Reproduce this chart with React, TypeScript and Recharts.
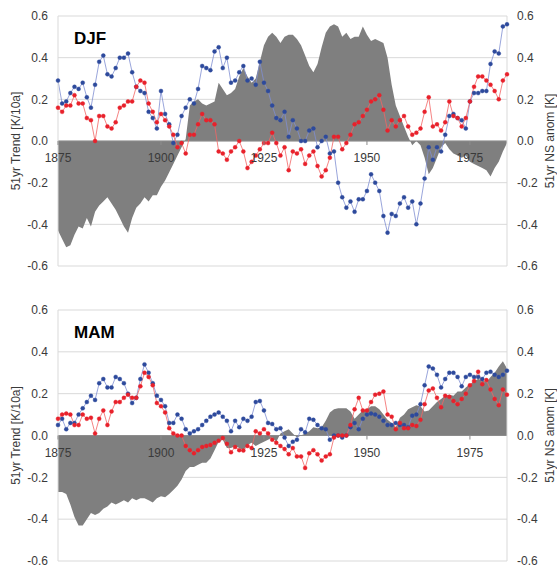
import React from "react";
import { ComposedChart, Area, Line, XAxis, YAxis, CartesianGrid, ReferenceLine } from "recharts";

// 51-year windows, centre years 1875..1984
const FIRST_YEAR = 1875;
const years = Array.from({ length: 110 }, (_, i) => FIRST_YEAR + i);
const yearTicks = [1875, 1900, 1925, 1950, 1975];
const valueTicks = [-0.6, -0.4, -0.2, 0, 0.2, 0.4, 0.6];

// DJF
const djfTrend = [
  -0.43, -0.47, -0.51, -0.5, -0.45, -0.41, -0.42, -0.37, -0.41, -0.34,
  -0.31, -0.29, -0.27, -0.3, -0.33, -0.37, -0.41, -0.44, -0.37, -0.32,
  -0.3, -0.27, -0.29, -0.26, -0.26, -0.22, -0.19, -0.15, -0.11, -0.07,
  -0.03, 0.01, 0.17, 0.19, 0.2, 0.18, 0.17, 0.18, 0.19, 0.28,
  0.25, 0.22, 0.23, 0.25, 0.31, 0.35, 0.31, 0.28, 0.3, 0.38,
  0.46, 0.5, 0.52, 0.5, 0.47, 0.5, 0.51, 0.51, 0.49, 0.46,
  0.41, 0.36, 0.33, 0.37, 0.45, 0.52, 0.55, 0.56, 0.55, 0.5,
  0.52, 0.49, 0.5, 0.5, 0.55, 0.51, 0.48, 0.49, 0.48, 0.47,
  0.4, 0.27, 0.17, 0.12, 0.07, 0.02, -0.02, 0.0, -0.02, -0.08,
  -0.16, -0.13, -0.08, -0.03, -0.01, -0.04, -0.06, -0.07, -0.08, -0.07,
  -0.1, -0.11, -0.12, -0.13, -0.14, -0.17, -0.13, -0.1, -0.05, -0.01,
];
const djfBlue = [
  0.29, 0.18, 0.19, 0.23, 0.26, 0.25, 0.28, 0.21, 0.16, 0.27,
  0.38, 0.41, 0.32, 0.31, 0.35, 0.4, 0.4, 0.42, 0.33, 0.26,
  0.24, 0.23, 0.14, 0.11, 0.06, 0.24, 0.13, 0.08, -0.01, 0.03,
  0.12, 0.16, 0.2, 0.18, 0.25, 0.36, 0.35, 0.34, 0.43, 0.45,
  0.35, 0.4, 0.28, 0.29, 0.33, 0.36, 0.29, 0.3, 0.27, 0.38,
  0.28, 0.24, 0.17, 0.11, 0.1, 0.14, 0.02, 0.1, 0.06, 0.0,
  0.0, 0.05, 0.06, -0.03, 0.0, 0.02, -0.06, -0.05, -0.2, -0.27,
  -0.32, -0.29, -0.34, -0.28, -0.28, -0.24, -0.16, -0.2, -0.24, -0.36,
  -0.44, -0.35, -0.36, -0.3, -0.27, -0.32, -0.29, -0.4, -0.3, -0.18,
  -0.03, -0.09, -0.03, -0.05, 0.03, 0.12, 0.13, 0.11, 0.1, 0.06,
  0.19, 0.23, 0.23, 0.24, 0.24, 0.37, 0.43, 0.42, 0.55, 0.56,
];
const djfRed = [
  0.16, 0.14, 0.17, 0.17, 0.22, 0.18, 0.18, 0.11, 0.1, 0.0,
  0.12, 0.12, 0.07, 0.06, 0.09, 0.16, 0.17, 0.19, 0.19, 0.26,
  0.29, 0.28, 0.18, 0.14, 0.09, 0.13, 0.1, 0.07, 0.03, -0.03,
  -0.01, -0.06, 0.03, 0.03, 0.08, 0.13, 0.1, 0.1, 0.08, -0.05,
  -0.06, -0.09, -0.05, -0.03, 0.0, -0.05, -0.13, -0.1, -0.07, -0.04,
  -0.01, -0.01, 0.04, -0.01, -0.07, -0.03, -0.14, -0.05, -0.06, -0.04,
  -0.11, -0.07, -0.05, -0.12, -0.17, -0.14, -0.08, 0.02, 0.02, -0.04,
  -0.01, 0.03, 0.08, 0.09, 0.12, 0.15, 0.19, 0.2, 0.22, 0.15,
  0.05, 0.1, 0.07, 0.1, 0.12, 0.07, 0.03, 0.04, 0.06, 0.14,
  0.21, 0.07, 0.08, 0.05, 0.09, 0.19, 0.12, 0.11, 0.07, 0.11,
  0.19, 0.26, 0.31, 0.31, 0.29, 0.27, 0.24, 0.2, 0.29, 0.32,
];

// MAM
const mamTrend = [
  -0.27, -0.27, -0.28, -0.33, -0.39, -0.43, -0.43, -0.4, -0.37, -0.38,
  -0.37, -0.35, -0.34, -0.32, -0.33, -0.32, -0.31, -0.32, -0.3, -0.31,
  -0.3, -0.3, -0.31, -0.32, -0.3, -0.29, -0.295, -0.28, -0.26, -0.24,
  -0.21, -0.17, -0.15, -0.15, -0.14, -0.13, -0.13, -0.11, -0.07, -0.03,
  -0.02, -0.06, -0.06, -0.05, -0.06, -0.07, -0.045, -0.035, -0.05, -0.04,
  -0.03, -0.02, -0.01, -0.03, 0.01, 0.02, 0.03, 0.01, -0.01, 0.0,
  0.01, 0.02, 0.04, 0.035, 0.04, 0.07, 0.11, 0.125, 0.13, 0.13,
  0.13, 0.115, 0.08, 0.1, 0.12, 0.125, 0.14, 0.14, 0.125, 0.1,
  0.075, 0.06, 0.04, 0.085, 0.1, 0.125, 0.135, 0.145, 0.14, 0.115,
  0.12, 0.14, 0.16, 0.175, 0.19, 0.195, 0.19, 0.21, 0.21, 0.23,
  0.245, 0.26, 0.27, 0.265, 0.255, 0.28, 0.3, 0.33, 0.355, 0.32,
];
const mamBlue = [
  0.05, 0.08, 0.03, 0.06, 0.06, 0.1, 0.13, 0.16, 0.19, 0.17,
  0.25, 0.27, 0.23, 0.23, 0.28, 0.27, 0.25, 0.2, 0.155, 0.18,
  0.27, 0.34, 0.3, 0.25, 0.19, 0.17, 0.14, 0.06, 0.06, 0.1,
  0.08, 0.03, 0.01, 0.02, 0.03, 0.05, 0.07, 0.09, 0.1, 0.11,
  0.09, 0.07, 0.02, 0.07, 0.04, 0.08, 0.07, 0.09, 0.16, 0.165,
  0.12, 0.06, 0.055, 0.03, 0.035, -0.01, -0.05, -0.03, -0.02, 0.03,
  0.015, 0.08, 0.075, 0.05, 0.035, 0.03, -0.02, 0.0, 0.0, -0.01,
  0.0, 0.04, 0.06, 0.03, 0.08, 0.1, 0.105, 0.1, 0.09, 0.07,
  0.05, 0.05, 0.06, 0.05, 0.05, 0.04, 0.095, 0.1, 0.15, 0.24,
  0.33, 0.32, 0.29, 0.23, 0.27, 0.3, 0.3, 0.28, 0.235, 0.28,
  0.29, 0.28, 0.28, 0.27, 0.3, 0.305, 0.29, 0.28, 0.29, 0.31,
];
const mamRed = [
  0.08, 0.1, 0.105, 0.1, 0.05, 0.05, 0.1, 0.08, 0.085, 0.01,
  0.08, 0.12, 0.05, 0.115, 0.16, 0.16, 0.18, 0.195, 0.18, 0.18,
  0.235, 0.3, 0.28, 0.24, 0.155, 0.14, 0.11, 0.035, 0.01, 0.0,
  0.0, -0.05, -0.07, -0.085, -0.07, -0.055, -0.05, -0.045, -0.035, -0.025,
  -0.012, -0.04, -0.08, -0.055, -0.07, -0.072, -0.05, -0.06, 0.02, 0.01,
  0.03, 0.01, -0.02, -0.035, -0.05, -0.065, -0.09, -0.06, -0.1, -0.1,
  -0.155, -0.085, -0.07, -0.09, -0.12, -0.1, -0.09, -0.01, 0.0, 0.0,
  0.0, 0.05, 0.125, 0.18, 0.12, 0.12, 0.16, 0.195, 0.2, 0.21,
  0.1, 0.09, 0.03, 0.06, 0.035, 0.035, 0.05, 0.045, 0.075, 0.15,
  0.215, 0.225, 0.18, 0.135, 0.19, 0.185, 0.165, 0.15, 0.175, 0.2,
  0.24, 0.26, 0.305, 0.245, 0.265, 0.22, 0.175, 0.145, 0.22, 0.195,
];

const FONT = "Arial, 'Liberation Sans', sans-serif";
const GRID = "#d9d9d9";
const TEXT = "#3a3a3a";
const WIDTH = 557;

type PanelProps = {
  title: string;
  trend: number[];
  blue: number[];
  red: number[];
  height: number;
  marginTop: number;
  axisHeight: number;
};

const Panel = ({ title, trend, blue, red, height, marginTop, axisHeight }: PanelProps) => {
  const data = years.map((year, i) => ({ year, trend: trend[i], blue: blue[i], red: red[i] }));
  // domain is symmetric, so the zero line sits in the middle of the plot
  const zeroY = marginTop + (height - marginTop - axisHeight) / 2;

  const YearTick = (props: any) => {
    const { x, payload } = props;
    return (
      <g>
        <line x1={x} x2={x} y1={zeroY} y2={zeroY + 4} stroke="#8c8c8c" />
        <text x={x} y={zeroY + 21} textAnchor="middle" fontSize={12} fill={TEXT} fontFamily={FONT}>
          {payload.value}
        </text>
      </g>
    );
  };

  return (
    <div style={{ position: "relative", width: WIDTH, height }}>
      <ComposedChart width={WIDTH} height={height} data={data} margin={{ top: marginTop, right: 0, bottom: 0, left: 0 }}>
        <CartesianGrid yAxisId="trend" vertical={false} stroke={GRID} />
        <Area
          yAxisId="trend"
          dataKey="trend"
          type="linear"
          fill="#7f7f7f"
          fillOpacity={1}
          stroke="none"
          isAnimationActive={false}
        />
        <ReferenceLine yAxisId="trend" y={0} stroke="#8c8c8c" />
        <XAxis
          dataKey="year"
          type="number"
          domain={[FIRST_YEAR, FIRST_YEAR + years.length - 1]}
          ticks={yearTicks}
          interval={0}
          height={axisHeight}
          axisLine={false}
          tickLine={false}
          tick={YearTick}
        />
        <YAxis
          yAxisId="trend"
          orientation="left"
          width={58}
          domain={[-0.6, 0.6]}
          ticks={valueTicks}
          tickFormatter={(v: number) => v.toFixed(1)}
          axisLine={{ stroke: GRID }}
          tickLine={false}
          tickMargin={4}
          tick={{ fontSize: 12, fill: TEXT, fontFamily: FONT }}
          label={{ value: "51yr Trend [K/10a]", angle: -90, position: "center", dx: -13, fontSize: 12, fill: TEXT, fontFamily: FONT }}
        />
        <YAxis
          yAxisId="anom"
          orientation="right"
          width={50}
          domain={[-0.6, 0.6]}
          ticks={valueTicks}
          tickFormatter={(v: number) => v.toFixed(1)}
          axisLine={{ stroke: GRID }}
          tickLine={false}
          tickMargin={4}
          tick={{ fontSize: 12, fill: TEXT, fontFamily: FONT }}
          label={{ value: "51yr NS anom [K]", angle: -90, position: "center", dx: 18, fontSize: 12, fill: TEXT, fontFamily: FONT }}
        />
        <Line
          yAxisId="anom"
          dataKey="blue"
          type="linear"
          stroke="#7f8ed2"
          strokeWidth={0.8}
          dot={{ r: 2, fill: "#2d4a9c", stroke: "#2d4a9c", strokeWidth: 0.4 }}
          isAnimationActive={false}
        />
        <Line
          yAxisId="anom"
          dataKey="red"
          type="linear"
          stroke="#f26464"
          strokeWidth={0.8}
          dot={{ r: 2, fill: "#e8212b", stroke: "#e8212b", strokeWidth: 0.4 }}
          isAnimationActive={false}
        />
      </ComposedChart>
      <div
        style={{
          position: "absolute",
          left: 74,
          top: marginTop + 14,
          fontFamily: FONT,
          fontWeight: "bold",
          fontSize: 17,
          lineHeight: "17px",
          color: "#000",
        }}
      >
        {title}
      </div>
    </div>
  );
};

const App: React.FC = () => {
  return (
    <div style={{ position: "absolute", left: 0, top: 0, width: WIDTH, height: 570, background: "#fff" }}>
      <div style={{ position: "absolute", left: 0, top: 0 }}>
        <Panel title="DJF" trend={djfTrend} blue={djfBlue} red={djfRed} height={285} marginTop={16} axisHeight={19} />
      </div>
      <div style={{ position: "absolute", left: 0, top: 290 }}>
        <Panel title="MAM" trend={mamTrend} blue={mamBlue} red={mamRed} height={280} marginTop={20} axisHeight={9} />
      </div>
    </div>
  );
};

export default App;
